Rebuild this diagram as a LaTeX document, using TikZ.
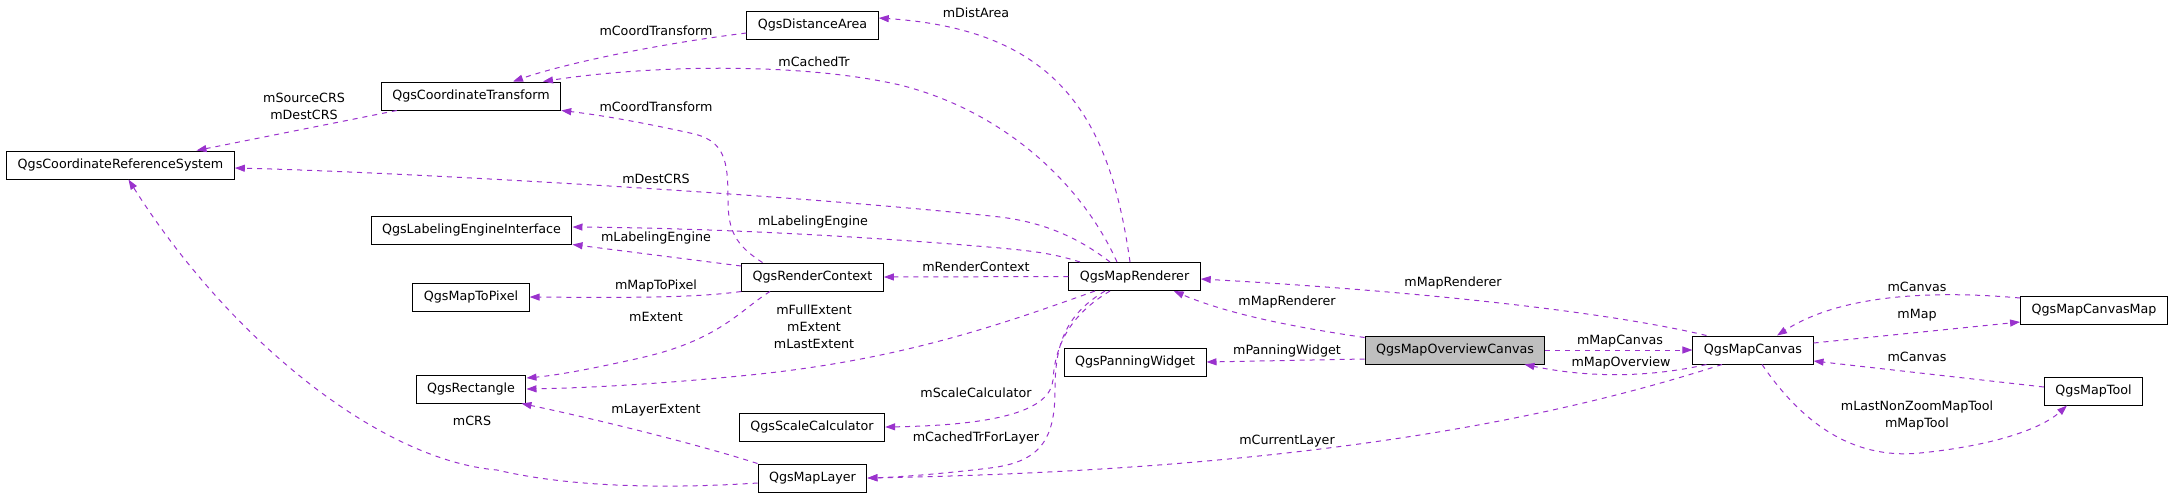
\documentclass[tikz,border=0pt]{standalone}
\usepackage{fontspec}
\setmainfont{DejaVu Sans}
\usetikzlibrary{arrows.meta}
\definecolor{edgec}{HTML}{9A32CD}
\begin{document}
\begin{tikzpicture}[x=1pt,y=-1pt,
  every node/.style={font=\fontsize{12.7}{17}\selectfont},
  cls/.style={draw=black, line width=1pt, fill=white, minimum height=28pt, inner xsep=11pt, inner ysep=0pt},
  hl/.style={cls, fill=black!25},
  rel/.style={draw=edgec, line width=1pt, dash pattern=on 5pt off 5pt, -{Triangle[length=10pt,width=7pt]}},
  lbl/.style={inner sep=0pt, align=center}
]
\useasboundingbox (0,0) rectangle (2176,496);

% classes
\node[cls] (crs) at (120.5,165) {QgsCoordinateReferenceSystem};
\node[cls] (ct)  at (471,96)    {QgsCoordinateTransform};
\node[cls] (lei) at (471.5,230) {QgsLabelingEngineInterface};
\node[cls] (m2p) at (471,297)   {QgsMapToPixel};
\node[cls] (rect) at (471,389)  {QgsRectangle};
\node[cls] (da)  at (812.5,25)  {QgsDistanceArea};
\node[cls] (rc)  at (812.5,277) {QgsRenderContext};
\node[cls] (sc)  at (812,427)   {QgsScaleCalculator};
\node[cls] (ml)  at (812.5,478) {QgsMapLayer};
\node[cls] (mr)  at (1134.5,276.5) {QgsMapRenderer};
\node[cls] (pw)  at (1135,362)  {QgsPanningWidget};
\node[hl]  (moc) at (1455,350)  {QgsMapOverviewCanvas};
\node[cls] (mc)  at (1753,350)  {QgsMapCanvas};
\node[cls] (mcm) at (2094,310)  {QgsMapCanvasMap};
\node[cls] (mt)  at (2093.5,391) {QgsMapTool};

% relations
\draw[rel] ([yshift=-8pt]da.west) .. controls (650,45) and (560,65) .. ([xshift=42pt]ct.north);
\node[lbl] at (656,31) {mCoordTransform};

\draw[rel] ([xshift=-17.5pt]mr.north) .. controls (1080,180) and (1000,110) .. (900,85)
  .. controls (800,62) and (650,65) .. ([xshift=72pt]ct.north);
\node[lbl] at (814,62) {mCachedTr};

\draw[rel] ([xshift=-4.5pt]mr.north) .. controls (1110,120) and (1060,30) .. ([yshift=7pt]da.east);
\node[lbl] at (976,13) {mDistArea};

\draw[rel] ([xshift=-24.5pt]mr.north) .. controls (1075,235) and (1040,222) .. (1000,217)
  .. controls (800,195) and (400,172) .. ([yshift=-3pt]crs.east);
\node[lbl] at (656,179) {mDestCRS};

\draw[rel] ([xshift=-54.5pt]mr.north) .. controls (1050,252) and (1020,250) .. (1000,248)
  .. controls (850,235) and (700,228) .. ([yshift=3pt]lei.east);
\node[lbl] at (813,222) {mLabelingEngine};

\draw[rel] (mr.west) -- (rc.east);
\node[lbl] at (976,267) {mRenderContext};

\draw[rel] ([xshift=-50pt]rc.north) .. controls (735,245) and (728,230) .. (728,200)
  .. controls (728,160) and (725,140) .. (690,133)
  .. controls (640,122) and (600,115) .. (ct.south east);
\node[lbl] at (656,107) {mCoordTransform};

\draw[rel] ([yshift=11pt]rc.west) -- (lei.south east);
\node[lbl] at (656,238) {mLabelingEngine};

\draw[rel] (rc.south west) .. controls (700,297) and (650,298) .. (m2p.east);
\node[lbl] at (656,286) {mMapToPixel};

\draw[rel] ([xshift=-42.5pt]rc.south) .. controls (740,310) and (720,340) .. (640,358)
  .. controls (600,367) and (560,375) .. ([yshift=11pt]rect.east);
\node[lbl] at (656,317) {mExtent};

\draw[rel] ([xshift=-39.5pt]mr.south) .. controls (1000,325) and (900,360) .. (750,375)
  .. controls (650,385) and (580,388) .. (rect.east);
\node[lbl] at (814,327) {mFullExtent\\mExtent\\mLastExtent};

\draw[rel] ([xshift=-24.5pt]mr.south) .. controls (1070,315) and (1055,345) .. (1053,380)
  .. controls (1050,410) and (1000,425) .. (sc.east);
\node[lbl] at (976,393) {mScaleCalculator};

\draw[rel] ([xshift=-29.5pt]mr.south) .. controls (1065,315) and (1055,345) .. (1055,390)
  .. controls (1055,440) and (1040,462) .. (990,468)
  .. controls (940,474) and (900,477) .. (ml.east);
\node[lbl] at (976,438) {mCachedTrForLayer};

\draw[rel] ([yshift=-2pt]moc.north west) .. controls (1300,328) and (1230,315) .. ([xshift=-27pt]mr.south east);
\node[lbl] at (1287,302) {mMapRenderer};

\draw[rel] ([yshift=-9pt]moc.west) -- (pw.east);
\node[lbl] at (1287,351) {mPanningWidget};

\draw[rel] ([xshift=14pt]mc.north west) .. controls (1600,310) and (1400,290) .. ([yshift=-2.5pt]mr.east);
\node[lbl] at (1453,283) {mMapRenderer};

\draw[rel] (moc.east) -- (mc.west);
\node[lbl] at (1620,341) {mMapCanvas};

\draw[rel] ([xshift=14pt]mc.south west) .. controls (1660,375) and (1600,380) .. ([xshift=-21pt]moc.south east);
\node[lbl] at (1621,363) {mMapOverview};

\draw[rel] ([xshift=-31pt]mc.south) .. controls (1550,420) and (1300,470) .. (ml.east);
\node[lbl] at (1287,441) {mCurrentLayer};

\draw[rel] ([yshift=7pt]mc.east) -- ([yshift=-12pt]mcm.west);
\node[lbl] at (1917,315) {mMap};

\draw[rel] ([yshift=12pt]mcm.west) .. controls (1930,290) and (1840,295) .. ([xshift=24pt]mc.north);
\node[lbl] at (1917,287) {mCanvas};

\draw[rel] ([yshift=4pt]mt.west) -- ([yshift=-11pt]mc.east);
\node[lbl] at (1917,357) {mCanvas};

\draw[rel] ([xshift=9pt]mc.south) .. controls (1800,420) and (1850,460) .. (1920,453)
  .. controls (1990,446) and (2040,430) .. ([xshift=-26.5pt]mt.south);
\node[lbl] at (1917,415.5) {mLastNonZoomMapTool\\mMapTool};

\draw[rel] ([xshift=16pt]ct.south west) -- ([xshift=76pt]crs.north);
\node[lbl] at (304,106) {mSourceCRS\\mDestCRS};

\draw[rel] ([xshift=-55pt]ml.north) .. controls (700,445) and (600,420) .. ([xshift=-5pt]rect.south east);
\node[lbl] at (656,410) {mLayerExtent};

\draw[rel] ([yshift=-5pt]ml.west) .. controls (650,490) and (560,485) .. (497,470)
  .. controls (380,460) and (230,340) .. ([xshift=8pt]crs.south);
\node[lbl] at (472,421) {mCRS};
\end{tikzpicture}
\end{document}
